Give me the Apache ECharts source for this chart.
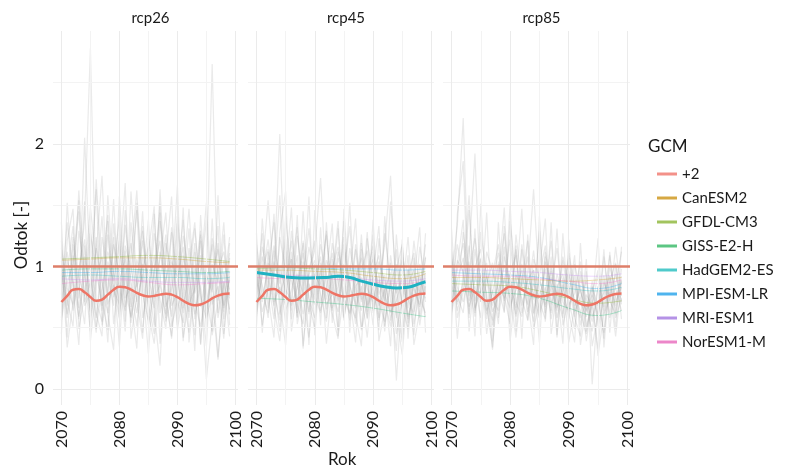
<!DOCTYPE html>
<html>
<head>
<meta charset="utf-8">
<script src="https://cdn.jsdelivr.net/npm/echarts@6/dist/echarts.min.js"></script>
<style>
html,body{margin:0;padding:0;background:#fff;}
#mybox{width:788px;height:470px;}
</style>
</head>
<body>
<div id="mybox"></div>
<script>
// scenarios and GCM names
var scenarios = ['rcp26', 'rcp45', 'rcp85'];
var gcms = ['+2', 'CanESM2', 'GFDL-CM3', 'GISS-E2-H', 'HadGEM2-ES', 'MPI-ESM-LR', 'MRI-ESM1', 'NorESM1-M'];
var yTicks = [0, 1, 2];
var xTicks = [2070, 2080, 2090, 2100];

// yearly values of the grey runs
var years = [2070,2071,2072,2073,2074,2075,2076,2077,2078,2079,2080,2081,2082,2083,2084,2085,2086,2087,2088,2089,2090,2091,2092,2093,2094,2095,2096,2097,2098,2099];

var grey26 = [
  [0.85,1.12,0.64,0.93,1.38,2.78,0.72,0.55,1.04,0.88,1.21,0.67,0.95,1.46,0.58,0.81,1.09,0.73,0.49,1.32,0.90,0.62,1.15,0.78,0.97,1.52,0.69,0.84,0.41,1.07],
  [1.21,0.58,0.97,1.45,0.71,0.88,1.63,0.52,0.79,1.18,0.94,0.47,1.36,0.83,1.02,0.66,1.27,0.91,0.55,0.74,1.41,0.86,0.63,1.12,0.37,0.98,2.65,0.72,1.05,0.81],
  [0.62,0.94,1.33,0.57,1.08,0.79,0.46,1.24,0.92,0.68,1.57,0.81,0.59,1.06,0.87,1.38,0.63,0.19,1.19,0.95,0.52,1.09,0.83,0.44,1.26,0.71,0.93,1.14,0.66,0.89],
  [1.04,0.73,0.51,1.29,0.96,0.63,1.11,1.74,0.69,0.85,0.58,1.17,0.99,0.72,0.41,1.23,0.88,1.51,0.67,0.82,1.05,0.39,0.94,1.31,0.76,0.57,1.02,0.87,1.36,0.61],
  [0.77,1.36,0.89,0.66,2.05,0.92,0.58,0.97,1.42,0.75,0.88,1.06,0.54,0.91,1.33,0.69,0.45,1.12,0.86,1.28,0.64,0.93,1.47,0.72,0.51,0.84,1.18,0.62,0.95,0.74],
  [0.93,0.61,1.18,0.84,0.53,1.27,0.95,0.71,0.48,1.35,0.82,0.64,1.09,1.62,0.77,0.56,0.98,1.21,0.73,0.43,0.89,1.16,0.58,0.99,0.81,0.35,1.23,0.94,0.68,1.11],
  [0.56,0.87,1.02,1.54,0.68,0.79,1.15,0.86,0.62,0.97,1.39,0.74,0.83,0.51,1.08,0.93,0.66,1.37,0.98,0.59,1.14,0.77,0.46,0.88,1.29,0.64,0.91,0.26,0.83,1.24],
  [1.15,0.82,0.69,0.98,1.22,0.58,0.91,1.08,0.77,1.55,0.63,0.89,1.19,0.71,0.94,0.52,0.83,1.06,1.44,0.68,0.79,1.25,0.92,0.61,0.85,0.08,0.55,0.98,1.12,0.76],
  [0.71,1.05,0.86,0.59,0.92,1.48,1.03,0.64,1.26,0.81,0.69,0.96,0.58,0.87,1.21,0.76,1.43,0.62,0.89,1.08,0.72,0.54,1.02,1.36,0.67,0.93,0.79,1.19,0.57,0.92],
  [0.98,0.68,1.24,0.91,0.76,1.06,0.49,0.83,1.12,0.95,0.71,1.34,0.87,0.62,0.99,1.16,0.74,0.85,0.61,1.04,0.91,1.38,0.69,0.82,1.09,0.58,0.76,0.24,0.88,0.65],
  [0.45,1.52,0.83,0.36,1.17,0.64,1.71,0.92,0.38,1.24,0.57,1.46,0.72,0.33,1.29,0.86,0.52,1.63,0.79,0.41,1.35,0.66,0.98,0.31,1.42,0.75,0.47,1.58,0.63,1.19],
  [1.36,0.42,1.09,0.74,1.53,0.39,0.86,1.41,0.61,0.32,1.27,0.55,1.61,0.88,0.46,1.12,1.49,0.37,1.06,1.57,0.48,0.79,1.31,0.57,0.93,1.38,0.44,0.71,1.26,0.52],
  [0.58,1.21,1.47,0.49,0.77,1.34,0.62,0.43,1.58,0.91,0.35,1.13,0.67,1.52,0.84,0.29,0.96,1.44,0.58,0.88,1.66,0.42,0.74,1.19,0.36,1.07,0.81,1.33,0.45,0.96],
  [1.08,0.34,0.71,1.62,0.93,0.47,1.24,0.68,1.37,0.53,0.98,1.68,0.41,0.76,1.45,0.62,0.37,0.89,1.26,0.51,0.73,1.48,0.38,0.84,1.21,0.49,1.39,0.58,0.87,0.43]
];
var grey45 = [
  [0.82,1.27,0.66,0.94,2.08,0.73,1.12,0.58,0.89,1.31,0.77,0.62,1.05,0.91,0.48,1.18,0.84,0.69,1.26,0.57,0.93,1.09,0.72,0.51,1.14,0.63,0.86,0.44,1.02,0.79],
  [1.09,0.74,0.98,1.36,0.61,0.85,1.21,0.69,0.53,0.97,1.13,1.72,0.81,0.64,1.07,0.88,0.56,0.99,0.73,1.28,0.62,0.84,1.19,1.74,0.67,0.38,0.92,1.11,0.58,0.86],
  [0.67,0.91,1.22,0.79,0.56,1.41,0.88,0.72,1.04,0.61,0.94,0.83,1.29,0.54,0.96,0.71,1.15,0.87,0.49,0.92,1.06,0.68,0.81,0.95,0.07,0.79,1.24,0.63,0.91,0.74],
  [0.95,0.63,0.81,1.17,0.92,0.54,0.99,1.32,0.76,0.42,0.87,1.08,0.65,0.93,1.37,0.59,0.82,1.14,0.71,0.88,0.52,1.23,0.76,0.62,0.97,1.18,0.54,0.83,0.69,1.08],
  [0.74,1.08,0.89,0.57,1.24,0.96,0.68,0.83,1.11,0.74,0.58,0.92,1.26,0.79,0.63,1.02,0.86,0.53,1.19,0.82,0.71,0.95,0.47,1.09,0.78,0.91,0.66,1.21,0.81,0.59],
  [1.18,0.79,0.62,1.04,0.86,1.23,0.57,0.94,0.78,1.16,0.91,0.64,0.83,1.11,0.72,0.95,1.33,0.66,0.84,0.58,1.12,0.77,0.93,0.56,0.84,1.05,0.73,0.61,1.16,0.88],
  [0.59,0.96,1.14,0.71,0.83,0.68,1.29,0.87,0.61,0.93,1.05,0.77,0.55,0.98,1.16,0.74,0.62,0.91,1.07,0.69,0.83,0.58,1.27,0.86,0.45,0.74,0.98,0.82,0.67,0.95],
  [0.88,0.71,1.03,0.92,1.58,0.64,0.81,1.09,0.35,0.86,0.73,1.18,0.92,0.66,0.84,1.24,0.70,0.58,0.97,1.13,0.64,0.89,0.72,1.03,0.61,0.28,0.85,0.97,0.74,0.62],
  [1.02,0.85,0.58,1.13,0.77,0.93,1.06,0.62,1.21,0.84,0.69,0.97,0.73,1.19,0.88,0.56,1.01,0.79,0.64,0.94,1.17,0.71,0.55,0.86,1.02,0.67,0.49,0.93,0.78,1.07],
  [0.76,1.16,0.92,0.68,0.99,0.81,0.72,1.25,0.88,0.63,1.02,0.86,0.69,0.77,1.12,0.93,0.61,0.84,0.91,0.67,0.79,1.04,0.88,0.63,0.72,0.89,0.59,0.76,0.94,0.71],
  [0.51,1.39,0.76,0.42,1.28,1.61,0.47,0.83,1.19,0.36,1.46,0.69,0.94,1.35,0.43,0.78,1.52,0.61,0.35,1.23,0.86,0.48,1.41,0.72,0.31,1.16,0.57,0.88,1.32,0.46],
  [1.27,0.46,1.12,0.67,0.39,0.94,1.48,0.53,0.79,1.57,0.44,1.03,0.37,0.85,1.31,0.58,0.92,1.39,0.48,0.71,1.26,0.39,0.66,1.53,0.84,0.42,0.97,0.53,0.79,1.18],
  [0.63,0.98,1.54,0.88,0.47,1.13,0.64,1.42,0.33,0.96,1.21,0.52,1.36,0.62,0.41,1.47,0.75,0.38,1.14,0.63,1.38,0.56,0.82,0.35,1.26,0.68,1.09,0.36,0.64,1.27],
  [0.97,0.52,0.84,1.43,0.71,0.36,1.06,0.59,1.45,0.71,0.49,1.32,0.58,1.06,0.69,1.37,0.46,1.18,0.79,0.42,0.95,1.33,0.51,0.89,0.58,1.22,0.41,1.07,0.52,0.84]
];
var grey85 = [
  [0.91,1.34,2.21,0.72,0.88,1.07,0.61,0.94,1.18,0.76,0.53,1.26,0.84,0.69,0.97,0.58,1.12,0.81,0.64,1.05,0.73,0.49,0.92,0.67,0.84,0.56,1.08,0.72,0.61,0.89],
  [1.12,0.69,0.87,1.46,0.64,0.93,0.78,0.32,1.04,0.86,1.22,0.71,0.59,0.95,1.63,0.82,0.67,0.99,0.74,0.58,1.11,0.83,0.62,0.45,0.79,0.97,0.64,0.88,1.03,0.69],
  [0.68,0.97,1.19,0.84,0.59,1.28,0.91,0.73,0.64,1.08,0.87,0.66,1.02,0.79,0.55,0.93,1.17,0.69,0.86,0.61,0.94,0.72,0.58,1.06,0.04,0.71,0.93,0.62,0.85,1.12],
  [0.97,0.76,0.62,1.09,1.92,0.71,0.86,1.03,0.58,0.91,0.74,1.14,0.68,0.89,0.97,0.62,0.78,1.21,0.66,0.85,0.57,1.02,0.79,0.63,0.88,0.51,0.74,1.09,0.71,0.83],
  [0.79,1.18,0.93,0.67,0.84,0.58,1.12,0.96,0.81,0.63,1.37,0.88,0.74,0.56,1.06,0.91,0.69,0.82,1.15,0.71,0.64,0.93,0.52,0.77,0.68,0.94,0.61,0.73,1.16,0.76],
  [1.06,0.83,0.71,0.95,1.23,0.87,0.64,0.79,1.02,0.72,0.93,0.61,1.18,0.84,0.73,1.29,0.62,0.91,0.76,1.08,0.85,0.59,0.96,0.73,0.55,0.84,0.67,0.99,0.82,0.64],
  [0.62,0.89,1.07,0.76,0.99,1.14,0.73,0.56,0.92,1.27,0.68,0.81,0.97,0.63,0.86,0.74,0.98,0.57,0.83,0.94,0.69,0.78,1.04,0.51,0.69,0.33,0.87,0.75,0.94,0.71],
  [0.85,0.71,1.28,0.92,0.66,0.81,1.03,0.68,0.87,0.74,0.95,1.09,0.62,0.91,0.78,0.58,1.04,0.86,0.67,0.79,0.96,0.63,0.74,0.88,0.59,0.72,0.46,0.83,0.68,0.92],
  [1.01,0.64,0.83,1.17,0.72,0.94,0.57,0.88,1.11,0.79,0.66,0.93,0.84,1.08,0.61,0.89,0.73,0.96,0.58,0.82,1.07,0.68,0.81,0.64,0.77,0.61,0.89,0.58,0.76,0.87],
  [0.73,1.05,0.96,0.61,1.14,0.78,0.92,0.63,0.76,1.01,0.84,0.59,0.92,0.77,1.13,0.69,0.83,0.62,0.94,0.76,0.63,0.88,0.71,0.59,0.83,0.68,0.79,0.92,0.63,0.98],
  [0.49,1.43,1.86,0.58,1.31,0.44,0.97,0.39,1.36,0.62,1.52,0.47,1.14,0.73,0.36,1.41,0.55,1.08,0.42,1.27,0.63,0.38,1.19,0.47,0.71,1.23,0.34,0.92,0.49,1.16],
  [1.31,0.58,0.79,1.04,0.43,1.51,0.68,0.34,0.89,1.48,0.53,1.17,0.41,1.26,0.62,0.97,1.39,0.45,0.81,0.37,1.22,0.58,0.43,0.96,0.35,0.61,1.14,0.46,1.02,0.57],
  [0.64,1.02,1.38,0.47,0.95,0.71,1.44,0.52,0.76,1.16,0.39,0.84,1.47,0.56,0.92,0.38,1.08,0.64,1.31,0.52,0.74,1.09,0.36,0.68,0.47,0.83,0.41,1.12,0.58,0.74],
  [1.14,0.41,0.96,1.58,0.62,1.06,0.45,0.81,0.53,1.33,0.77,0.42,0.88,1.21,0.49,0.71,0.57,1.36,0.44,0.91,0.38,0.67,0.85,0.39,0.73,0.27,0.62,0.79,0.43,0.88]
];

// the +2 curve (same in every panel)
var plus2 = [0.71,0.76,0.81,0.815,0.79,0.75,0.72,0.73,0.77,0.81,0.835,0.83,0.81,0.785,0.765,0.755,0.76,0.77,0.777,0.77,0.75,0.72,0.695,0.683,0.69,0.71,0.74,0.762,0.775,0.78];

// smoothed GCM curves, order: CanESM2, GFDL-CM3, GISS-E2-H, HadGEM2-ES, MPI-ESM-LR, MRI-ESM1, NorESM1-M
var smoothYears = [2070,2075,2080,2085,2090,2095,2099];
var smooth26 = [
  [1.05,1.06,1.07,1.07,1.06,1.04,1.03],
  [1.06,1.07,1.08,1.09,1.08,1.06,1.04],
  [0.97,0.98,0.98,0.97,0.96,0.95,0.96],
  [0.92,0.93,0.92,0.91,0.91,0.90,0.91],
  [0.95,0.95,0.96,0.95,0.94,0.94,0.95],
  [0.90,0.89,0.90,0.88,0.87,0.87,0.88],
  [0.86,0.88,0.89,0.87,0.85,0.86,0.87]
];
var smooth45 = [
  [0.97,0.97,0.96,0.95,0.92,0.90,0.94],
  [0.98,0.99,0.98,0.97,0.95,0.93,0.96],
  [0.74,0.73,0.71,0.69,0.66,0.62,0.59],
  null,
  [0.99,0.99,0.99,0.98,0.98,0.97,0.98],
  [0.94,0.93,0.92,0.91,0.89,0.88,0.90],
  [0.91,0.90,0.90,0.89,0.87,0.86,0.88]
];
var smooth85 = [
  [0.91,0.91,0.90,0.89,0.88,0.89,0.91],
  [0.86,0.85,0.84,0.80,0.74,0.70,0.72],
  [0.80,0.79,0.78,0.74,0.66,0.60,0.64],
  [0.88,0.88,0.87,0.85,0.82,0.80,0.83],
  [0.95,0.94,0.93,0.91,0.86,0.82,0.86],
  [0.97,0.97,0.96,0.95,0.93,0.92,0.94],
  [0.93,0.92,0.92,0.90,0.88,0.86,0.89]
];
// the highlighted HadGEM2-ES curve in rcp45
var hadYears45 = [2070,2073,2076,2079,2082,2084,2086,2088,2090,2092,2094,2096,2098,2099];
var had45 = [0.95,0.93,0.91,0.905,0.91,0.92,0.91,0.88,0.855,0.835,0.825,0.83,0.86,0.875];

var colors = ['#F8766D','#CD9600','#7CAE00','#00BE67','#00BFC4','#00A9FF','#C77CFF','#FF61CC'];
var legendColors = ['#F39189','#D6A843','#A2C45E','#5CC683','#4FCACB','#4FB4EE','#B592E6','#EC86C9'];

var greyData = [grey26, grey45, grey85];
var smoothData = [smooth26, smooth45, smooth85];
var gridLeft = [53, 248, 443];
var gridWidth = [185, 186, 187];
var FONT = 'Lato, "Noto Sans", sans-serif';

function pairs(xs, ys) {
    var out = [];
    for (var i = 0; i < xs.length; i++) out.push([xs[i], ys[i]]);
    return out;
}

var gridStyleMajor = {color: '#ebebeb', width: 1, type: 'solid'};
var gridStyleMinor = {color: '#f3f3f3', width: 1, type: 'solid'};

var grids = [], xAxes = [], yAxes = [], series = [], titles = [];

for (var p = 0; p < 3; p++) {
    grids.push({left: gridLeft[p], width: gridWidth[p], top: 31, height: 374});
    xAxes.push({
        type: 'value', gridIndex: p, min: 2068.55, max: 2100.45,
        axisLine: {show: false}, axisTick: {show: false}, splitLine: {show: false},
        axisLabel: {
            customValues: xTicks, rotate: 90, margin: 6, fontSize: 16,
            color: '#1a1a1a', fontFamily: FONT,
            formatter: function (v) { return String(Math.round(v)); }
        }
    });
    yAxes.push({
        type: 'value', gridIndex: p, min: -0.13, max: 2.92,
        axisLine: {show: false}, axisTick: {show: false}, splitLine: {show: false},
        axisLabel: {
            show: p === 0, customValues: yTicks, margin: 9, fontSize: 16,
            color: '#1a1a1a', fontFamily: FONT,
            formatter: function (v) { return String(v); }
        }
    });
    titles.push({
        text: scenarios[p], left: gridLeft[p] + gridWidth[p] / 2, top: 6, textAlign: 'center',
        textStyle: {fontSize: 15, fontWeight: 'normal', color: '#1a1a1a', fontFamily: FONT}
    });

    // panel grid lines
    series.push({
        type: 'line', xAxisIndex: p, yAxisIndex: p, data: [], silent: true, z: 0,
        markLine: {
            silent: true, symbol: 'none', label: {show: false}, animation: false,
            data: [
                {yAxis: 0, lineStyle: gridStyleMajor},
                {yAxis: 1, lineStyle: gridStyleMajor},
                {yAxis: 2, lineStyle: gridStyleMajor},
                {yAxis: 0.5, lineStyle: gridStyleMinor},
                {yAxis: 1.5, lineStyle: gridStyleMinor},
                {yAxis: 2.5, lineStyle: gridStyleMinor},
                {xAxis: 2070, lineStyle: gridStyleMajor},
                {xAxis: 2080, lineStyle: gridStyleMajor},
                {xAxis: 2090, lineStyle: gridStyleMajor},
                {xAxis: 2100, lineStyle: gridStyleMajor},
                {xAxis: 2075, lineStyle: gridStyleMinor},
                {xAxis: 2085, lineStyle: gridStyleMinor},
                {xAxis: 2095, lineStyle: gridStyleMinor}
            ]
        }
    });

    // grey runs
    greyData[p].forEach(function (run) {
        series.push({
            type: 'line', name: 'run', xAxisIndex: p, yAxisIndex: p,
            data: pairs(years, run), showSymbol: false, silent: true, z: 1,
            lineStyle: {color: '#a0a0a0', width: 1.2, opacity: 0.22}
        });
    });

    // faint GCM curves
    smoothData[p].forEach(function (vals, k) {
        if (!vals) return;
        series.push({
            type: 'line', name: gcms[k + 1], xAxisIndex: p, yAxisIndex: p,
            data: pairs(smoothYears, vals), smooth: true, showSymbol: false, silent: true, z: 2,
            itemStyle: {color: colors[k + 1]},
            lineStyle: {color: colors[k + 1], width: 1, opacity: 0.3}
        });
    });

    if (p === 1) {
        series.push({
            type: 'line', name: 'HadGEM2-ES', xAxisIndex: p, yAxisIndex: p,
            data: pairs(hadYears45, had45), smooth: true, showSymbol: false, silent: true, z: 4,
            itemStyle: {color: '#1fb2c2'},
            lineStyle: {color: '#1fb2c2', width: 3}
        });
    }

    // +2 curve and reference line at 1
    series.push({
        type: 'line', name: '+2', xAxisIndex: p, yAxisIndex: p,
        data: pairs(years, plus2), smooth: true, showSymbol: false, silent: true, z: 5,
        itemStyle: {color: colors[0]},
        lineStyle: {color: '#ee7566', width: 2.5},
        markLine: {
            silent: true, symbol: 'none', label: {show: false}, animation: false,
            lineStyle: {color: '#de7e69', width: 2.5, type: 'solid'},
            data: [{yAxis: 1}]
        }
    });
}

titles.push({
    text: 'GCM', left: 643, top: 133,
    textStyle: {fontSize: 17, fontWeight: 'normal', color: '#1a1a1a', fontFamily: FONT}
});

var mycharts = echarts.init(document.getElementById('mybox'));
var option = {
    animation: false,
    backgroundColor: '#ffffff',
    title: titles,
    grid: grids,
    xAxis: xAxes,
    yAxis: yAxes,
    legend: {
        orient: 'vertical', left: 652, top: 161, icon: 'rect',
        itemWidth: 20, itemHeight: 3, itemGap: 8,
        selectedMode: false,
        textStyle: {fontSize: 15, color: '#1a1a1a', fontFamily: FONT, lineHeight: 16},
        data: gcms.map(function (g, i) { return {name: g, itemStyle: {color: legendColors[i]}}; })
    },
    graphic: [
        {type: 'text', left: 13, top: 'middle', rotation: Math.PI / 2,
         style: {text: 'Odtok [-]', fontSize: 17, fill: '#1a1a1a', fontFamily: FONT}},
        {type: 'text', left: 328, top: 451,
         style: {text: 'Rok', fontSize: 17, fill: '#1a1a1a', fontFamily: FONT}}
    ],
    series: series
};
mycharts.setOption(option);
</script>
</body>
</html>
